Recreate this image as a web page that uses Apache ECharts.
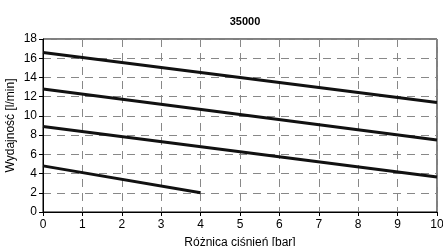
<!DOCTYPE html>
<html><head><meta charset="utf-8">
<script src="https://cdn.jsdelivr.net/npm/echarts@6/dist/echarts.min.js"></script>
<style>html,body{margin:0;padding:0;background:#fff}#c{width:443px;height:246px}</style>
</head><body><div id="c"></div>
<script>
const chartTitle = "35000";
const xName = "Różnica ciśnień [bar]";
const yName = "Wydajność [l/min]";
const line1 = [[0, 16.6], [10, 11.4]];
const line2 = [[0, 12.8], [10, 7.5]];
const line3 = [[0, 8.9], [10, 3.65]];
const line4 = [[0, 4.8], [4, 2.0]];
const font = "Liberation Sans, Arial, sans-serif";
const chart = echarts.init(document.getElementById('c'));
const mk = d => ({type:'line', data:d, symbol:'none', lineStyle:{color:'#111', width:3}, silent:true});
chart.setOption({
  animation:false,
  title:{text:chartTitle, left:240, top:11, textAlign:'center', textStyle:{fontFamily:font, fontSize:11, fontWeight:'bold', color:'#000'}},
  grid:{left:43, right:6, top:39, bottom:34, show:true, borderColor:'#000', borderWidth:1, outerBoundsMode:'none', containLabel:false},
  xAxis:{type:'value', min:0, max:10, interval:1, name:xName, nameLocation:'middle', nameGap:25, nameMoveOverlap:false,
    nameTextStyle:{fontFamily:font, fontSize:12, color:'#000'},
    axisLine:{lineStyle:{color:'#000'}}, axisTick:{show:true, length:4, lineStyle:{color:'#000'}},
    axisLabel:{fontFamily:font, fontSize:12, color:'#000', margin:7},
    splitLine:{show:true, lineStyle:{color:'#888', type:[8,6], width:1}}},
  yAxis:{type:'value', min:0, max:18, interval:2, name:yName, nameLocation:'middle', nameGap:26, nameMoveOverlap:false,
    nameTextStyle:{fontFamily:font, fontSize:12, color:'#000'},
    axisLine:{show:true, lineStyle:{color:'#000'}}, axisTick:{show:true, length:4, lineStyle:{color:'#000'}},
    axisLabel:{fontFamily:font, fontSize:12, color:'#000', margin:6},
    splitLine:{show:true, lineStyle:{color:'#888', type:[8,6], width:1}}},
  series:[mk(line1), mk(line2), mk(line3), mk(line4)]
});
</script></body></html>
